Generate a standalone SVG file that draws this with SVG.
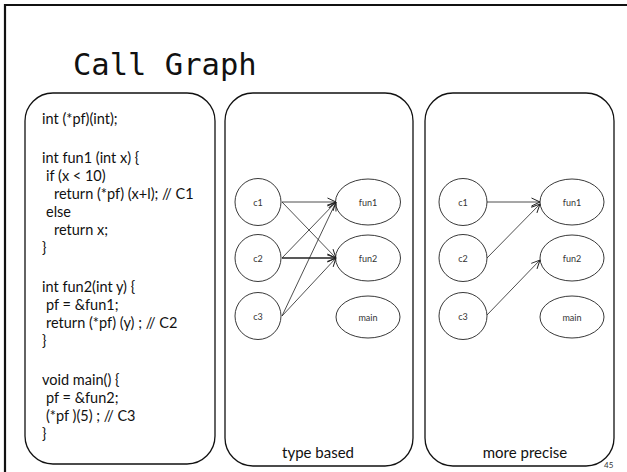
<svg xmlns="http://www.w3.org/2000/svg" width="627" height="472" viewBox="0 0 627 472">
<style>
.frame{fill:none;stroke:#111;stroke-width:2.2}
.panel{fill:#fff;stroke:#111;stroke-width:1.3}
.title{font-family:"DejaVu Sans Mono","Liberation Mono",monospace;font-size:30.5px;fill:#111}
.code{font-family:Lato,"Liberation Sans",sans-serif;font-size:14.5px;fill:#111}
.cap{font-family:Lato,"Liberation Sans",sans-serif;font-size:15px;fill:#111;text-anchor:middle}
.node ellipse{fill:#fff;stroke:#222;stroke-width:0.9}
.node text{font-family:Lato,"Liberation Sans",sans-serif;font-size:9px;fill:#333;text-anchor:middle;dominant-baseline:central}
.edge{stroke:#222;stroke-width:0.8;fill:none;marker-end:url(#arr)}
.pg{font-family:Lato,"Liberation Sans",sans-serif;font-size:8px;fill:#333}
</style>
<defs>
<marker id="arr" viewBox="0 0 10 10" refX="9.5" refY="5" markerWidth="10" markerHeight="10" markerUnits="userSpaceOnUse" orient="auto">
<path d="M1,1 L9.5,5 L1,9" fill="none" stroke="#222" stroke-width="1"/>
</marker>
</defs>
<rect width="627" height="472" fill="#fff"/>
<path class="frame" d="M5,472 V5 H627"/>
<text class="title" x="73" y="75">Call Graph</text>

<g id="code-panel">
<rect class="panel" x="25" y="93" width="190" height="371" rx="28" ry="28"/>
<text class="code" x="42" y="124">int (*pf)(int);</text>
<text class="code" x="42" y="163">int fun1 (int x) {</text>
<text class="code" x="46" y="181">if (x &lt; 10)</text>
<text class="code" x="54" y="199">return (*pf) (x+l); // C1</text>
<text class="code" x="46" y="217">else</text>
<text class="code" x="54" y="235">return x;</text>
<text class="code" x="42" y="253">}</text>
<text class="code" x="42" y="292">int fun2(int y) {</text>
<text class="code" x="46" y="310">pf = &amp;fun1;</text>
<text class="code" x="46" y="328">return (*pf) (y) ; // C2</text>
<text class="code" x="42" y="346">}</text>
<text class="code" x="42" y="385">void main() {</text>
<text class="code" x="46" y="403">pf = &amp;fun2;</text>
<text class="code" x="46" y="421">(*pf )(5) ; // C3</text>
<text class="code" x="42" y="439">}</text>
</g>

<g id="type-based-panel">
<rect class="panel" x="225" y="93" width="188" height="373" rx="28" ry="28"/>
<text class="cap" x="318" y="458">type based</text>
</g>
<g id="more-precise-panel">
<rect class="panel" x="425" y="93" width="189" height="373" rx="28" ry="28"/>
<text class="cap" x="525" y="458">more precise</text>
</g>

<g id="tb-c1" class="node"><ellipse cx="258" cy="202" rx="23" ry="23.5"/><text x="258" y="202">c1</text></g>
<g id="tb-c2" class="node"><ellipse cx="258" cy="258" rx="23" ry="23.5"/><text x="258" y="258">c2</text></g>
<g id="tb-c3" class="node"><ellipse cx="258" cy="316" rx="23" ry="23.5"/><text x="258" y="316">c3</text></g>
<g id="tb-fun1" class="node"><ellipse cx="368" cy="202" rx="32.5" ry="23"/><text x="368" y="202">fun1</text></g>
<g id="tb-fun2" class="node"><ellipse cx="368" cy="258" rx="32.5" ry="23"/><text x="368" y="258">fun2</text></g>
<g id="tb-main" class="node"><ellipse cx="368" cy="317" rx="32" ry="21"/><text x="368" y="317">main</text></g>

<g id="mp-c1" class="node"><ellipse cx="463" cy="202" rx="24" ry="23.5"/><text x="463" y="202">c1</text></g>
<g id="mp-c2" class="node"><ellipse cx="463" cy="258" rx="24" ry="23.5"/><text x="463" y="258">c2</text></g>
<g id="mp-c3" class="node"><ellipse cx="463" cy="316" rx="24" ry="23.5"/><text x="463" y="316">c3</text></g>
<g id="mp-fun1" class="node"><ellipse cx="572" cy="202" rx="32" ry="23"/><text x="572" y="202">fun1</text></g>
<g id="mp-fun2" class="node"><ellipse cx="572" cy="258" rx="32" ry="23"/><text x="572" y="258">fun2</text></g>
<g id="mp-main" class="node"><ellipse cx="572" cy="317" rx="32" ry="21"/><text x="572" y="317">main</text></g>

<g id="connectors">
<line class="edge" x1="282" y1="202" x2="336" y2="202"/>
<line class="edge" x1="282" y1="202" x2="336" y2="258"/>
<line class="edge" x1="282" y1="258" x2="336" y2="202"/>
<line class="edge" x1="282" y1="258" x2="336" y2="258" style="stroke-width:1.6"/>
<line class="edge" x1="282" y1="316" x2="336" y2="202"/>
<line class="edge" x1="282" y1="316" x2="336" y2="258"/>
<line class="edge" x1="487" y1="202" x2="540" y2="202"/>
<line class="edge" x1="487" y1="258" x2="540" y2="204"/>
<line class="edge" x1="487" y1="315" x2="540" y2="260"/>
</g>
<text class="pg" x="604" y="468">45</text>
</svg>
